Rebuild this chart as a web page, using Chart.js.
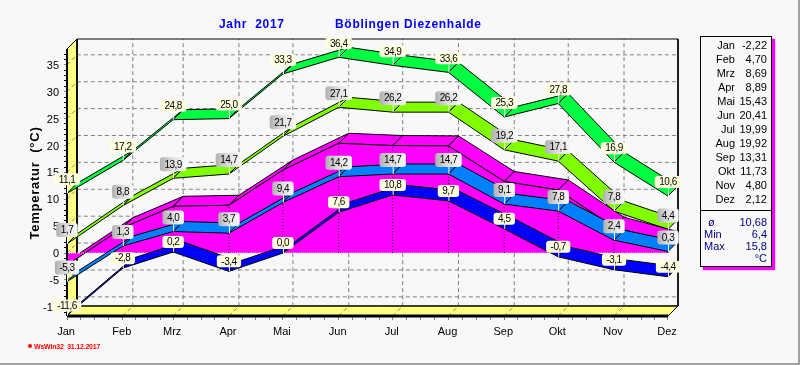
<!DOCTYPE html>
<html>
<head>
<meta charset="utf-8">
<title>Jahr 2017 Böblingen Diezenhalde</title>
<script src="https://cdn.jsdelivr.net/npm/chart.js@4/dist/chart.umd.js"></script>
<style>
  html, body { margin: 0; padding: 0; }
  body { width: 800px; height: 365px; overflow: hidden; background: #f8f8f8; position: relative; font-family: "Liberation Sans", Arial, sans-serif; }
  #frame { position: absolute; left: 0; top: 0; width: 798px; height: 363px; border-right: 2px solid #a0a0a0; border-bottom: 2px solid #a0a0a0; }
  canvas { position: absolute; left: 0; top: 0; }
  .head { position: absolute; top: 17px; color: #0000ff; font-weight: bold; font-size: 12px; letter-spacing: 0.7px; line-height: 14px; white-space: pre; }
  #ytitle { position: absolute; left: 34px; top: 183px; transform: translate(-50%, -50%) rotate(-90deg); font-size: 13px; font-weight: bold; letter-spacing: 0.75px; white-space: pre; color: #000; }
  #stamp { position: absolute; left: 34px; top: 342px; color: #ff0000; font-size: 7px; font-weight: bold; letter-spacing: -0.2px; line-height: 10px; white-space: pre; }
  #dot { position: absolute; left: 28px; top: 344px; width: 4px; height: 4px; border-radius: 50%; background: #ff0000; }
  #box { position: absolute; left: 700px; top: 36px; width: 70px; height: 229px; border: 1px solid #000; background: #f8f8f8; box-shadow: 3px 3px 1px #ff00ff; font-size: 11px; line-height: 14px; }
  #box div { position: absolute; white-space: pre; }
  #sep { left: 0; top: 173px; width: 70px; height: 1px; background: #000; }
</style>
</head>
<body>
<div id="frame"></div>
<canvas id="chart" width="800" height="365"></canvas>
<div class="head" style="left:219px">Jahr  2017</div>
<div class="head" style="left:335px">Böblingen Diezenhalde</div>
<div id="ytitle">Temperatur  (°C)</div>
<div id="dot"></div>
<div id="stamp">WsWin32  31.12.2017</div>
<div id="box"><div id="sep"></div></div>
<script>
let months = ['Jan', 'Feb', 'Mrz', 'Apr', 'Mai', 'Jun', 'Jul', 'Aug', 'Sep', 'Okt', 'Nov', 'Dez']
let monthDays = [0, 31, 59, 90, 120, 151, 181, 212, 243, 273, 304, 334]
let absMax = [11.1, 17.2, 24.8, 25.0, 33.3, 36.4, 34.9, 33.6, 25.3, 27.8, 16.9, 10.6]
let meanMax = [1.7, 8.8, 13.9, 14.7, 21.7, 27.1, 26.2, 26.2, 19.2, 17.1, 7.8, 4.4]
let mean = [-2.22, 4.70, 8.69, 8.89, 15.43, 20.41, 19.99, 19.92, 13.31, 11.73, 4.80, 2.12]
let meanMin = [-5.3, 1.3, 4.0, 3.7, 9.4, 14.2, 14.7, 14.7, 9.1, 7.8, 2.4, 0.3]
let absMin = [-11.6, -2.8, 0.2, -3.4, 0.0, 7.6, 10.8, 9.7, 4.5, -0.7, -3.1, -4.4]
let yearMean = 10.68
let yearMin = 6.4
let yearMax = 15.8
let yLabels = [-10, -5, 0, 5, 10, 15, 20, 25, 30, 35]

// the fake 3D depth, 10px back and 10px up, in axis units
let depthX = 5.56
let depthY = 1.86
let xMax = 334 + depthX
let yFloor = -11.7
let yTop = 37.94

let datasets = []

// later layers go on top, chart.js draws the highest order first
function addLayer(points, style) {
  datasets.push(Object.assign({
    data: points,
    order: -datasets.length,
    pointRadius: 0,
    tension: 0,
    borderWidth: 1,
    borderColor: '#000',
    clip: false,
  }, style))
}

function back(x, y) {
  return {x: x + depthX, y: y + depthY}
}

function addRibbon(values, colour) {
  for (let i = 0; i < values.length - 1; ++i) {
    let x0 = monthDays[i]
    let x1 = monthDays[i + 1]
    addLayer([
      {x: x0, y: values[i]},
      {x: x1, y: values[i + 1]},
      back(x1, values[i + 1]),
      back(x0, values[i]),
      {x: x0, y: values[i]},
    ], {fill: 'shape', backgroundColor: colour})
  }
}

// walls
addLayer([{x: 0, y: yFloor}, {x: 0, y: yTop}, back(0, yTop), back(0, yFloor), {x: 0, y: yFloor}],
  {fill: 'shape', backgroundColor: '#ffff80'})
addLayer([{x: 0, y: yFloor}, back(0, yFloor), back(334, yFloor), {x: 334, y: yFloor}, {x: 0, y: yFloor}],
  {fill: 'shape', backgroundColor: '#ffff80'})

// grid
for (let v of yLabels) {
  addLayer([{x: 0, y: v}, back(0, v), back(334, v)], {borderColor: '#808080', borderDash: [4, 3]})
}
for (let i = 1; i < monthDays.length - 1; ++i) {
  addLayer([{x: monthDays[i], y: yFloor}, back(monthDays[i], yFloor), back(monthDays[i], yTop)],
    {borderColor: '#808080', borderDash: [4, 3]})
}

// frame of the back wall
addLayer([back(0, yFloor), back(0, yTop), back(334, yTop), back(334, yFloor), back(0, yFloor)], {})
addLayer([{x: 0, y: yTop}, back(0, yTop)], {})
addLayer([{x: 334, y: yFloor}, back(334, yFloor)], {})

addRibbon(absMax, '#00ff40')
addRibbon(meanMax, '#80ff00')
addRibbon(mean, '#ff00ff')

// area below the mean line, down to zero
let meanFront = monthDays.map((d, i) => ({x: d, y: mean[i]}))
addLayer([{x: 0, y: 0}].concat(meanFront, [{x: 334, y: 0}, {x: 0, y: 0}]),
  {fill: 'shape', backgroundColor: '#ff00ff', borderWidth: 0, borderColor: 'rgba(0,0,0,0)'})
addLayer(meanFront, {})
addLayer([{x: 0, y: 0}, {x: 334, y: 0}], {borderColor: '#fff', borderDash: [1, 1]})
for (let i = 0; i < monthDays.length; ++i) {
  addLayer([{x: monthDays[i], y: 0}, {x: monthDays[i], y: mean[i]}], {borderDash: [1, 2]})
}

addRibbon(meanMin, '#0080ff')
addRibbon(absMin, '#0000ff')

// axes go over the walls
addLayer([{x: 0, y: yFloor}, {x: 0, y: yTop}], {borderWidth: 2})
addLayer([{x: 0, y: yFloor}, {x: 334, y: yFloor}], {borderWidth: 3})

function comma(v, digits) {
  return v.toFixed(digits).replace('.', ',')
}

function drawTag(ctx, chart, day, value, gray, lift) {
  let text = comma(value, 1)
  let px = chart.scales.x.getPixelForValue(day)
  let py = chart.scales.y.getPixelForValue(value)
  let w = ctx.measureText(text).width + 9
  let h = gray ? 14 : 12
  let cy = py - lift
  ctx.strokeStyle = '#fff'
  ctx.lineWidth = 1
  ctx.beginPath()
  ctx.moveTo(px + 0.5, cy)
  ctx.lineTo(px + 0.5, py)
  ctx.stroke()
  if (gray) {
    let g = ctx.createLinearGradient(px - w / 2, 0, px + w / 2, 0)
    g.addColorStop(0, '#b0b0b0')
    g.addColorStop(0.5, '#e0e0e0')
    g.addColorStop(1, '#fafafa')
    ctx.fillStyle = g
  } else {
    ctx.fillStyle = '#ffffe0'
  }
  ctx.beginPath()
  ctx.roundRect(px - w / 2, cy - h / 2, w, h, 3)
  ctx.fill()
  ctx.fillStyle = '#000'
  ctx.fillText(text, px, cy + 0.5)
}

let tagPlugin = {
  id: 'tags',
  afterDatasetsDraw(chart) {
    let ctx = chart.ctx
    ctx.save()
    ctx.font = '10px "Liberation Sans"'
    ctx.letterSpacing = '-0.5px'
    ctx.textAlign = 'center'
    ctx.textBaseline = 'middle'
    for (let i = 0; i < months.length; ++i) {
      drawTag(ctx, chart, monthDays[i], absMax[i], false, 14)
      drawTag(ctx, chart, monthDays[i], meanMax[i], true, 14)
      drawTag(ctx, chart, monthDays[i], meanMin[i], true, 14)
      drawTag(ctx, chart, monthDays[i], absMin[i], false, 10)
    }
    ctx.restore()
  },
}

let xTicks = []
for (let i = 0; i < monthDays.length; ++i) {
  xTicks.push(monthDays[i])
  if (i < monthDays.length - 1) {
    for (let q = 1; q < 4; ++q) xTicks.push(monthDays[i] + (monthDays[i + 1] - monthDays[i]) * q / 4)
  }
}
let yTicks = []
for (let v = -11; v <= 37; ++v) yTicks.push(v)

new Chart(document.getElementById('chart'), {
  type: 'line',
  data: {datasets: datasets},
  options: {
    responsive: false,
    animation: false,
    events: [],
    layout: {padding: {left: 0, right: 122, top: 39, bottom: 0}},
    plugins: {legend: {display: false}, tooltip: {enabled: false}},
    scales: {
      x: {
        type: 'linear',
        min: 0,
        max: xMax,
        afterFit: axis => { axis.height = 49 },
        afterBuildTicks: axis => { axis.ticks = xTicks.map(v => ({value: v})) },
        border: {display: false},
        grid: {drawOnChartArea: false, tickLength: 4, tickColor: '#808080'},
        ticks: {
          autoSkip: false,
          maxRotation: 0,
          padding: 5,
          labelOffset: -1,
          color: '#000',
          font: {family: '"Liberation Sans"', size: 11},
          callback: v => {
            let i = monthDays.indexOf(v)
            return i >= 0 ? months[i] : ''
          },
        },
      },
      y: {
        min: yFloor,
        max: yTop + depthY,
        afterFit: axis => { axis.width = 67 },
        afterBuildTicks: axis => { axis.ticks = yTicks.map(v => ({value: v})) },
        border: {display: false},
        grid: {drawOnChartArea: false, tickLength: 3, tickColor: ctx => yLabels.includes(ctx.tick.value) ? '#808080' : '#000'},
        ticks: {
          autoSkip: false,
          padding: 5,
          labelOffset: 1,
          color: '#000',
          font: {family: '"Liberation Sans"', size: 11},
          callback: v => yLabels.includes(v) ? String(v) : '',
        },
      },
    },
  },
  plugins: [tagPlugin],
})

// side box
let box = document.getElementById('box')
function addText(text, left, right, top, colour) {
  let el = document.createElement('div')
  el.textContent = text
  if (left !== null) el.style.left = left + 'px'
  if (right !== null) el.style.right = right + 'px'
  el.style.top = top + 'px'
  el.style.color = colour
  box.appendChild(el)
}
for (let i = 0; i < months.length; ++i) {
  addText(months[i], null, 36, 1 + i * 14, '#000')
  addText(comma(mean[i], 2), null, 4, 1 + i * 14, '#000')
}
addText('ø', 7, null, 178, '#000080')
addText(comma(yearMean, 2), null, 4, 178, '#000080')
addText('Min', 3, null, 190, '#000080')
addText(comma(yearMin, 1), null, 4, 190, '#000080')
addText('Max', 3, null, 202, '#000080')
addText(comma(yearMax, 1), null, 4, 202, '#000080')
addText('°C', null, 4, 214, '#000080')
</script>
</body>
</html>
